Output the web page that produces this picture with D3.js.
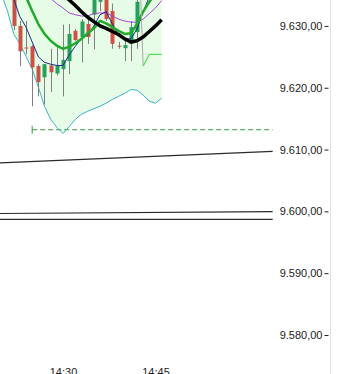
<!DOCTYPE html>
<html>
<head>
<meta charset="utf-8">
<script src="https://cdn.jsdelivr.net/npm/d3@7"></script>
<style>
  body { margin: 0; background: #fff; }
  svg { display: block; font-family: "Liberation Sans", Arial, sans-serif; }
</style>
</head>
<body>
<script>
        // candles, 1 minute
        const candleTimes = ["14:22","14:23","14:24","14:25","14:26","14:27","14:28","14:29","14:30","14:31","14:32",
            "14:33","14:34","14:35","14:36","14:37","14:38","14:39","14:40","14:41","14:42"];
        const opens  = [9636.0,9630.0,9626.5,9626.7,9623.5,9621.7,9623.6,9622.3,9623.0,9624.3,9629.2,
            9628.2,9630.3,9631.8,9633.9,9635.2,9632.4,9626.8,9626.4,9627.1,9629.0];
        const highs  = [9637.0,9630.8,9630.8,9626.9,9623.8,9623.8,9626.3,9626.6,9630.2,9630.3,9629.5,
            9631.1,9631.5,9635.5,9636.0,9636.0,9633.6,9627.4,9627.9,9630.8,9634.9];
        const lows   = [9629.3,9623.5,9625.4,9617.0,9618.6,9617.3,9619.3,9622.0,9618.6,9622.2,9627.6,
            9624.1,9627.1,9626.2,9632.4,9630.8,9626.3,9626.3,9624.3,9624.3,9626.3];
        const closes = [9630.0,9625.9,9626.4,9623.3,9620.9,9623.8,9622.5,9623.6,9624.5,9628.7,9627.7,
            9630.7,9628.2,9634.7,9635.2,9631.1,9627.1,9626.7,9626.9,9629.8,9633.9];

        // bollinger band (upper is out of view)
        const bandTimes = ["14:20","14:21","14:22","14:23","14:24","14:25","14:26","14:27","14:28","14:29","14:30",
            "14:31","14:32","14:33","14:34","14:35","14:36","14:37","14:38","14:39","14:40","14:41","14:42",
            "14:43","14:44","14:45","14:46"];
        const bandLower = [9635.2,9632.4,9628.7,9627.1,9625.1,9623.0,9620.1,9617.0,9614.9,9613.6,9612.6,
            9613.7,9614.9,9615.7,9616.2,9616.6,9617.0,9617.5,9618.1,9618.6,9619.1,9619.7,9619.6,
            9618.8,9617.8,9617.5,9618.3];
        const bandUpper = [9648,9648,9648,9648,9648,9648,9648,9648,9648,9648,9648,
            9648,9648,9648,9648,9648,9648,9648,9648,9648,9648,9648,9648,
            9648,9648,9648,9648];

        const navyTimes = ["14:22","14:23","14:24","14:25","14:26","14:27","14:28","14:29","14:30","14:31","14:32",
            "14:33","14:34","14:35","14:36","14:37","14:38","14:39","14:40","14:41","14:42","14:43","14:44"];
        const navyValues = [9634.4,9631.5,9629.8,9627.4,9625.0,9624.1,9623.8,9623.6,9623.6,9625.3,9626.7,
            9628.0,9628.5,9630.0,9631.8,9632.3,9630.3,9628.5,9627.9,9627.9,9629.5,9632.3,9634.7];

        const greenTimes = ["14:24","14:25","14:26","14:27","14:28","14:29","14:30","14:31","14:32","14:33","14:34",
            "14:35","14:36","14:37","14:38","14:39","14:40","14:41","14:42","14:43","14:44","14:45"];
        const greenValues = [9634.7,9632.4,9630.3,9628.7,9627.6,9626.8,9626.3,9626.6,9627.2,9627.9,9628.8,
            9629.6,9630.8,9630.4,9629.8,9629.2,9628.7,9628.8,9630.3,9632.3,9633.9,9635.2];

        const purpleTimes = ["14:28","14:29","14:30","14:31","14:32","14:33","14:34","14:35","14:36","14:37","14:38",
            "14:39","14:40","14:41","14:42","14:43","14:44","14:45","14:46"];
        const purpleValues = [9634.4,9633.6,9632.9,9632.1,9631.8,9631.6,9631.6,9632.0,9632.1,9632.1,9631.6,
            9631.1,9630.8,9630.6,9630.6,9631.1,9632.0,9632.9,9634.1];

        const blackTimes = ["14:30","14:31","14:32","14:33","14:34","14:35","14:36","14:37","14:38","14:39","14:40",
            "14:41","14:42","14:43","14:44","14:45","14:46"];
        const blackValues = [9635.2,9634.2,9633.3,9632.3,9631.4,9630.7,9630.0,9629.6,9629.1,9628.6,9627.9,
            9627.4,9627.6,9628.2,9629.1,9630.0,9631.0];

        const grayTimes = ["14:42:36","14:43"];
        const grayValues = [9634.6,9623.5];
        const limeTimes = ["14:43","14:44","14:46"];
        const limeValues = [9623.5,9625.4,9625.4];

        // trend lines and the dashed level
        const trendStart = ["14:19","14:19","14:19"];
        const trendEnd = ["15:04","15:04","15:04"];
        const trendFrom = [9607.8,9599.65,9598.7];
        const trendTo = [9609.7,9599.95,9598.7];
        const levelTimes = ["14:25","15:04"];
        const levelValue = 9613.2;

        const yTicks = [9580, 9590, 9600, 9610, 9620, 9630];
        const xTicks = ["14:30", "14:45"];

        const width = 340, height = 374;
        const svg = d3.select("body").append("svg")
            .attr("width", width)
            .attr("height", height);

        const parseHM = d3.timeParse("%H:%M");
        const parseHMS = d3.timeParse("%H:%M:%S");
        const t = (s) => parseHM(s) || parseHMS(s);

        const x = d3.scaleTime()
            .domain([t("14:30"), t("14:45")])
            .range([63, 155.5]);
        const y = d3.scaleLinear()
            .domain([9580, 9630])
            .range([335, 25.9]);

        const line = d3.line().x((d) => x(d[0])).y((d) => y(d[1]));
        const pairs = (ts, vs) => ts.map((s, i) => [t(s), vs[i]]);

        // band fill
        const area = d3.area()
            .x((d) => x(t(d.time)))
            .y0((d) => y(d.lower))
            .y1((d) => y(d.upper));
        svg.append("path")
            .datum(bandTimes.map((s, i) => ({ time: s, lower: bandLower[i], upper: bandUpper[i] })))
            .attr("d", area)
            .attr("fill", "#e6fce6");

        // trend lines
        svg.append("g").selectAll("line")
            .data(trendFrom)
            .join("line")
            .attr("x1", (d, i) => x(t(trendStart[i])))
            .attr("x2", (d, i) => x(t(trendEnd[i])))
            .attr("y1", (d) => y(d))
            .attr("y2", (d, i) => y(trendTo[i]))
            .attr("stroke", "#2a2a2a")
            .attr("stroke-width", 1.2);

        // dashed level
        svg.append("line")
            .attr("x1", x(t(levelTimes[0])))
            .attr("x2", x(t(levelTimes[1])))
            .attr("y1", y(levelValue))
            .attr("y2", y(levelValue))
            .attr("stroke", "#3a9a3a")
            .attr("stroke-dasharray", "5,3");
        svg.append("line")
            .attr("x1", x(t(levelTimes[0])))
            .attr("x2", x(t(levelTimes[0])))
            .attr("y1", y(levelValue) - 4)
            .attr("y2", y(levelValue) + 4)
            .attr("stroke", "#3a9a3a");

        // lower band line
        svg.append("path")
            .attr("d", line(pairs(bandTimes, bandLower)))
            .attr("fill", "none")
            .attr("stroke", "#3cb4c4")
            .attr("stroke-width", 1);

        // candles
        const candles = svg.append("g").selectAll("g")
            .data(candleTimes)
            .join("g");
        candles.append("line")
            .attr("x1", (d) => Math.round(x(t(d))) + 0.5)
            .attr("x2", (d) => Math.round(x(t(d))) + 0.5)
            .attr("y1", (d, i) => y(highs[i]))
            .attr("y2", (d, i) => y(lows[i]))
            .attr("stroke", "#808080");
        candles.append("rect")
            .attr("x", (d) => Math.round(x(t(d))) - 1.5)
            .attr("width", 4)
            .attr("y", (d, i) => y(Math.max(opens[i], closes[i])))
            .attr("height", (d, i) => Math.max(1, Math.abs(y(opens[i]) - y(closes[i]))))
            .attr("fill", (d, i) => closes[i] >= opens[i] ? "#26a05a" : "#cc5245");

        // indicator lines
        const drawLine = (ts, vs, color, w) => svg.append("path")
            .attr("d", line(pairs(ts, vs)))
            .attr("fill", "none")
            .attr("stroke", color)
            .attr("stroke-width", w)
            .attr("stroke-linejoin", "round");
        drawLine(purpleTimes, purpleValues, "#a545d6", 1);
        drawLine(navyTimes, navyValues, "#1c2a86", 1);
        drawLine(greenTimes, greenValues, "#22aa2a", 2.5);
        drawLine(grayTimes, grayValues, "#a8a8a8", 1);
        drawLine(limeTimes, limeValues, "#55dd55", 1.2);
        drawLine(blackTimes, blackValues, "#000", 3.5);

        // right border
        svg.append("line")
            .attr("x1", 330.5).attr("x2", 330.5)
            .attr("y1", 0).attr("y2", height)
            .attr("stroke", "#e2e2e2");

        // y axis
        const locale = d3.formatLocale({ decimal: ",", thousands: ".", grouping: [3], currency: ["", ""] });
        const fmt = locale.format(",.2f");
        const yAxis = svg.append("g")
            .attr("transform", "translate(328.5,0)")
            .call(d3.axisLeft(y).tickValues(yTicks).tickFormat(fmt).tickSize(4).tickPadding(2));
        yAxis.select(".domain").remove();
        yAxis.selectAll("text").attr("font-size", 11).attr("font-family", "Liberation Sans, Arial").attr("fill", "#222");
        yAxis.selectAll("line").attr("stroke", "#222");

        // x axis
        const xAxis = svg.append("g")
            .attr("transform", "translate(0,368)")
            .call(d3.axisBottom(x).tickValues(xTicks.map(t)).tickFormat(d3.timeFormat("%H:%M")).tickSize(0).tickPadding(0));
        xAxis.select(".domain").remove();
        xAxis.selectAll("text").attr("font-size", 11).attr("font-family", "Liberation Sans, Arial").attr("fill", "#222");
</script>
</body>
</html>
